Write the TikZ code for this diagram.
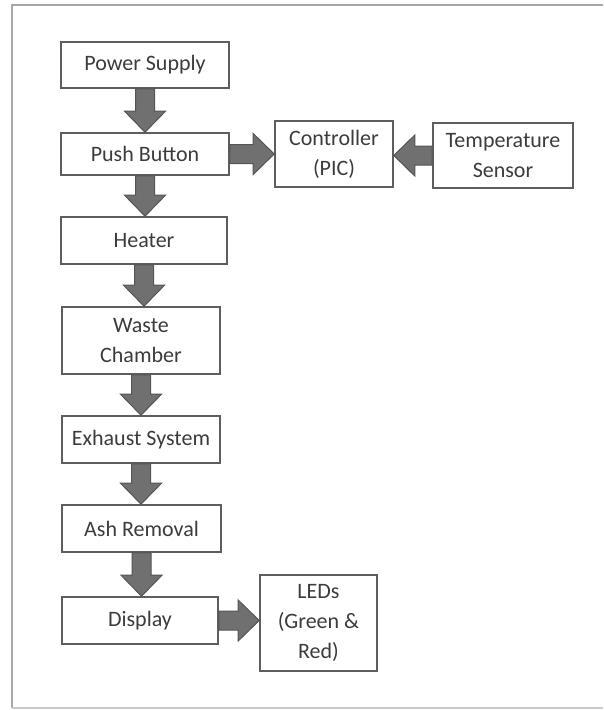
\documentclass[tikz,border=0pt]{standalone}
\usepackage{fontspec}
\setmainfont{Carlito}
\usetikzlibrary{calc}
\definecolor{boxline}{HTML}{5E5E5E}
\definecolor{txt}{HTML}{3C3C3C}
\definecolor{arrfill}{HTML}{707070}
\definecolor{arrline}{HTML}{555555}
\definecolor{frameline}{HTML}{A8A8A8}
\tikzset{
  blk/.style={draw=boxline, line width=1.6pt, fill=white, rectangle, inner sep=0pt,
    text=txt, align=center, font=\fontsize{22}{30}\selectfont},
  fat/.style={fill=arrfill, draw=arrline, line width=1pt, line join=miter}
}
\newcommand\fatarrow[2]{%
  \coordinate (fa-h) at ($(#2)!21pt!(#1)$);
  \filldraw[fat] ($(#1)!9.5pt!90:(#2)$) -- ($(fa-h)!9.5pt!90:(#2)$) -- ($(fa-h)!20.5pt!90:(#2)$) -- (#2)
    -- ($(fa-h)!20.5pt!-90:(#2)$) -- ($(fa-h)!9.5pt!-90:(#2)$) -- ($(#1)!9.5pt!-90:(#2)$) -- cycle;}
\begin{document}
\begin{tikzpicture}[x=1pt,y=-1pt]
\useasboundingbox (0,0) rectangle (603,710);
\fill[white] (0,0) rectangle (603,710);
% frame
\draw[frameline, line width=1.5pt] (603,5) -- (12,5) -- (12,708);
\draw[frameline!120!black, line width=2.5pt] (12,708) -- (603,708);
% boxes
\node[blk, minimum width=168pt, minimum height=46pt] (ps) at (145,65) {Power Supply};
\node[blk, minimum width=168pt, minimum height=42pt] (pb) at (145,154) {Push Button};
\node[blk, minimum width=166pt, minimum height=47pt] (ht) at (144,240.5) {Heater};
\node[blk, minimum width=158pt, minimum height=67pt] (wc) at (141,340.5) {Waste\\Chamber};
\node[blk, minimum width=158pt, minimum height=47pt] (ex) at (141,439.5) {Exhaust System};
\node[blk, minimum width=159pt, minimum height=47pt] (ar) at (141.5,528.5) {Ash Removal};
\node[blk, minimum width=156pt, minimum height=47pt] (dp) at (140,620.5) {Display};
\node[blk, minimum width=117pt, minimum height=96pt] (led) at (318.5,623) {LEDs\\(Green \&\\Red)};
\node[blk, minimum width=118pt, minimum height=66pt] (ctl) at (334,154) {Controller\\(PIC)};
\node[blk, minimum width=140pt, minimum height=65pt] (ts) at (503,155.5) {Temperature\\Sensor};
% connectors
\fatarrow{ps.south}{ps.south |- pb.north}
\fatarrow{pb.south}{pb.south |- ht.north}
\fatarrow{ht.south}{ht.south |- wc.north}
\fatarrow{wc.south}{wc.south |- ex.north}
\fatarrow{ex.south}{ex.south |- ar.north}
\fatarrow{ar.south}{ar.south |- dp.north}
\fatarrow{pb.east}{pb.east -| ctl.west}
\fatarrow{ts.west}{ts.west -| ctl.east}
\fatarrow{dp.east}{dp.east -| led.west}
\end{tikzpicture}
\end{document}
